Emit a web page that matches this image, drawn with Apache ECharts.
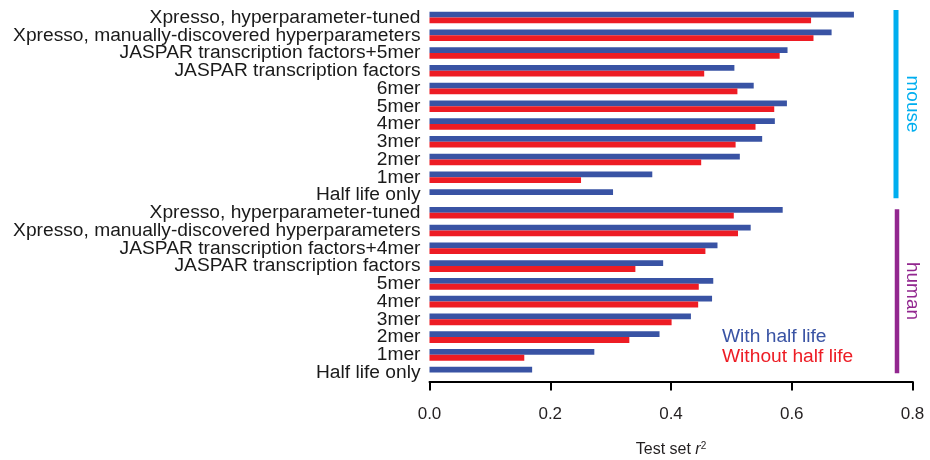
<!DOCTYPE html>
<html>
<head>
<meta charset="utf-8">
<script src="https://cdn.jsdelivr.net/npm/echarts@6/dist/echarts.min.js"></script>
<style>
html,body{margin:0;padding:0;background:#fff;}
#chart{width:930px;height:460px;}
</style>
</head>
<body>
<div id="chart"></div>
<script>
// Categories (top to bottom)
const mouseCategories = [
  'Xpresso, hyperparameter-tuned',
  'Xpresso, manually-discovered hyperparameters',
  'JASPAR transcription factors+5mer',
  'JASPAR transcription factors',
  '6mer', '5mer', '4mer', '3mer', '2mer', '1mer',
  'Half life only'
];
const humanCategories = [
  'Xpresso, hyperparameter-tuned',
  'Xpresso, manually-discovered hyperparameters',
  'JASPAR transcription factors+4mer',
  'JASPAR transcription factors',
  '5mer', '4mer', '3mer', '2mer', '1mer',
  'Half life only'
];
// Test set r^2 values
const mouseWithHalfLife    = [0.703, 0.666, 0.593, 0.505, 0.537, 0.592, 0.572, 0.551, 0.514, 0.369, 0.304];
const mouseWithoutHalfLife = [0.632, 0.636, 0.580, 0.455, 0.510, 0.571, 0.540, 0.507, 0.450, 0.251, 0];
const humanWithHalfLife    = [0.585, 0.532, 0.477, 0.387, 0.470, 0.468, 0.433, 0.381, 0.273, 0.170];
const humanWithoutHalfLife = [0.504, 0.511, 0.457, 0.341, 0.446, 0.445, 0.401, 0.331, 0.157, 0];
const xTicks = [0.0, 0.2, 0.4, 0.6, 0.8];
const seriesNames = ['With half life', 'Without half life'];
const groupNames = ['mouse', 'human'];

const BLUE = '#3953a4', RED = '#ed1c24', CYAN = '#00aeef', PURPLE = '#92278f';
const FONT = "'Liberation Sans', Arial, Helvetica, sans-serif";

const allCats = mouseCategories.concat(humanCategories);
const withHL = mouseWithHalfLife.concat(humanWithHalfLife);
const withoutHL = mouseWithoutHalfLife.concat(humanWithoutHalfLife);

const chart = echarts.init(document.getElementById('chart'));
const option = {
  animation: false,
  backgroundColor: '#fff',
  grid: { left: 429.5, right: 17.5, top: 8.6, bottom: 78.5, containLabel: false, outerBoundsMode: 'none' },
  legend: {
    orient: 'vertical',
    left: 712, top: 322,
    icon: 'none', itemWidth: 0, itemHeight: 14, itemGap: 1,
    selectedMode: false,
    textStyle: { fontFamily: FONT, fontSize: 19.2 },
    data: [
      { name: seriesNames[0], textStyle: { color: BLUE } },
      { name: seriesNames[1], textStyle: { color: RED } }
    ]
  },
  xAxis: {
    type: 'value', min: xTicks[0], max: xTicks[xTicks.length - 1], interval: 0.2,
    splitLine: { show: false },
    axisLine: { show: true, lineStyle: { color: '#000', width: 2 } },
    axisTick: { show: true, length: 9, lineStyle: { color: '#000', width: 2 } },
    axisLabel: { fontFamily: FONT, fontSize: 17, color: '#231f20', margin: 24,
      formatter: v => v.toFixed(1) },
    name: '{a|Test set }{b|r}{c|2}',
    nameLocation: 'middle', nameGap: 60,
    nameTextStyle: {
      rich: {
        a: { fontFamily: "'Liberation Sans Narrow', 'Arial Narrow', " + FONT, fontSize: 16, color: '#231f20' },
        b: { fontFamily: "'Liberation Sans Narrow', 'Arial Narrow', " + FONT, fontSize: 16, fontStyle: 'italic', color: '#231f20' },
        c: { fontFamily: FONT, fontSize: 10, color: '#231f20', verticalAlign: 'top' }
      }
    }
  },
  yAxis: {
    type: 'category', inverse: true, data: allCats,
    axisLine: { show: false }, axisTick: { show: false },
    axisLabel: { interval: 0, fontFamily: FONT, fontSize: 19.2, color: '#1a1a1a', margin: 9 }
  },
  series: [
    { name: seriesNames[0], type: 'bar', data: withHL, barWidth: 5.8, barGap: '0%',
      itemStyle: { color: BLUE } },
    { name: seriesNames[1], type: 'bar', data: withoutHL, barWidth: 5.8, barGap: '0%',
      itemStyle: { color: RED } }
  ],
  graphic: [
    { type: 'line', shape: { x1: 896, y1: 10, x2: 896, y2: 198.3 }, style: { stroke: CYAN, lineWidth: 5 } },
    { type: 'line', shape: { x1: 897, y1: 209.3, x2: 897, y2: 373.3 }, style: { stroke: PURPLE, lineWidth: 4.5 } },
    { type: 'text', x: 912, y: 104, rotation: -Math.PI / 2,
      style: { text: groupNames[0], fill: CYAN, font: '19px ' + FONT, align: 'center', verticalAlign: 'middle' } },
    { type: 'text', x: 912, y: 291, rotation: -Math.PI / 2,
      style: { text: groupNames[1], fill: PURPLE, font: '19px ' + FONT, align: 'center', verticalAlign: 'middle' } }
  ]
};
chart.setOption(option);
</script>
</body>
</html>
